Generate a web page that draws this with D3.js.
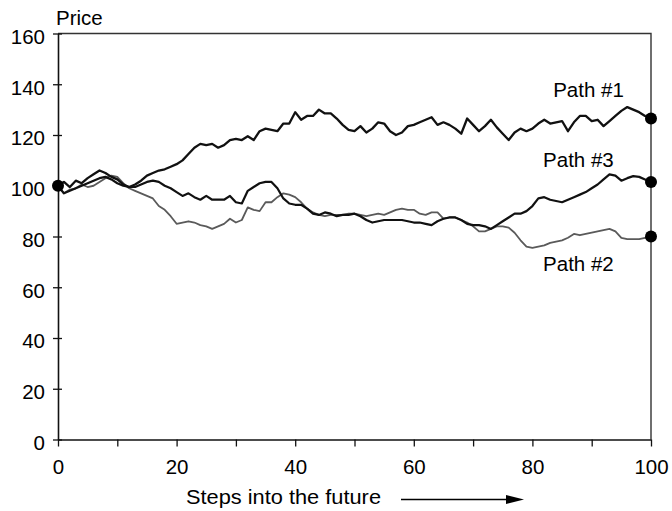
<!DOCTYPE html>
<html>
<head>
<meta charset="utf-8">
<script src="https://cdn.jsdelivr.net/npm/d3@7"></script>
<style>
  html, body { margin: 0; padding: 0; background: #fff; }
  svg { display: block; font-family: "Liberation Sans", Arial, Helvetica, sans-serif; }
</style>
</head>
<body>
<svg id="chart" width="672" height="511"></svg>
<script>
// ---- data ----
const steps = d3.range(0, 101);
const path1 = [100,101.5,99.5,102,101,103,104.5,106,105,103.5,102.5,100.5,99.5,100.5,102,104,105,106,106.5,107.5,
  108.5,110,112.5,115,116.5,116,116.5,115,116,118,118.5,118,119.5,118,121.5,122.5,122,121.5,124.5,124.5,
  129,126,127.5,127.5,130,128.5,128.5,126.5,124,122,121.5,123.5,121,122.5,125,124.5,121.5,120,121,123.5,
  124,125,126,127,124,125,124,122.5,120.5,126.5,124,121.5,123.5,126,123,120.5,118,121,122.5,121.5,
  122.5,124.5,126,124.5,125,125.5,121.5,125,127.5,127.5,125.5,126,123.5,125.5,127.5,129.5,131,130,129,127.5,126.5];
const path2 = [100,97,98.5,99,100.5,99.5,100,101.5,103,104,103.5,101,99,98,97,96,95,92,90.5,88,
  85,85.5,86,85.5,84.5,84,83,84,85,87,85.5,86.5,91.5,90.5,90,93.5,93.5,95.5,97,96.5,
  95.5,93.5,91,89.5,88.5,88,88.5,88.5,88.5,89,89,88.5,88,88.5,89,88.5,89.5,90.5,91,90.5,
  90.5,89,88.5,89.5,89.5,87,87.5,87.5,86.5,85.5,84,82,82,83,84,84,83.5,81.5,78.5,76,
  75.5,76,76.5,77.5,78,78.5,79.5,81,80.5,81,81.5,82,82.5,83,82,79.5,79,79,79,79.5,80];
const path3 = [100,97,98,99,100,101,102,103,103.5,102.5,101,100,99.5,99.5,100.5,101.5,102,101.5,100,99,
  97.5,96,97,95.5,94.5,96,94.5,94.5,94.5,96,93.5,93,98,99.5,101,101.5,101.5,99,95,93,
  92.5,92.5,91,89,88.5,89.5,89,88,88.5,88.5,89,88,86.5,85.5,86,86.5,86.5,86.5,86.5,86,
  85.5,85.5,85,84.5,86,87,87.5,87.5,86.5,85,84.5,84.5,84,83,84.5,86,87.5,89,89,90,
  92,95,95.5,94.5,94,93.5,94.5,95.5,96.5,97.5,99,100.5,102.5,104.5,104,102,103,103.8,103.5,102.5,101.5];
const xTicks = [0, 10, 20, 30, 40, 50, 60, 70, 80, 90, 100];
const xTickLabels = ["0", "", "20", "", "40", "", "60", "", "80", "", "100"];
const yTicks = [0, 20, 40, 60, 80, 100, 120, 140, 160];
const pathNames = ["Path #1", "Path #2", "Path #3"];
// label anchors (step, price) for path annotations
const labelSteps = [83.5, 81.8, 81.8];
const labelValues = [135.1, 66.4, 107.3];
const yTitle = "Price";
const xTitle = "Steps into the future";

// ---- scales ----
const svg = d3.select("#chart");
const x = d3.scaleLinear().domain([0, 100]).range([58, 651]);
const y = d3.scaleLinear().domain([0, 160]).range([439.5, 33.5]);
const FS = 20.5;

// frame (top & right)
svg.append("path")
  .attr("d", `M${x(0)},${y(160)}H${x(100)}V${y(0)}`)
  .attr("fill", "none").attr("stroke", "#333").attr("stroke-width", 1.4);

// x axis
const gx = svg.append("g").attr("transform", `translate(0,${y(0)})`)
  .call(d3.axisBottom(x).tickValues(xTicks).tickSize(7).tickSizeOuter(0)
    .tickFormat((d, i) => xTickLabels[i]));
gx.select(".domain").attr("stroke", "#111").attr("stroke-width", 1.6);
gx.selectAll(".tick line").attr("stroke", "#111").attr("stroke-width", 1.3);
gx.selectAll(".tick text").attr("font-size", FS).attr("fill", "#000")
  .attr("font-family", "Liberation Sans, Arial, sans-serif")
  .attr("y", 34.5).attr("dy", 0);

// y axis
const gy = svg.append("g").attr("transform", `translate(${x(0)},0)`)
  .call(d3.axisLeft(y).tickValues(yTicks).tickSize(5).tickSizeOuter(0));
gy.select(".domain").attr("stroke", "#111").attr("stroke-width", 1.6);
gy.selectAll(".tick line").attr("stroke", "#111").attr("stroke-width", 1.3).attr("x1", 4).attr("x2", -5);
gy.selectAll(".tick text").attr("font-size", FS).attr("fill", "#000")
  .attr("font-family", "Liberation Sans, Arial, sans-serif")
  .attr("x", -13).attr("dy", "0.48em");

// lines
const line = d3.line().x((d, i) => x(steps[i])).y(d => y(d));
const series = [
  { values: path2, color: "#5a5a5a", width: 1.8 },
  { values: path3, color: "#111", width: 2.2 },
  { values: path1, color: "#111", width: 2.3 }
];
svg.selectAll("path.series").data(series).enter().append("path")
  .attr("class", "series")
  .attr("d", d => line(d.values))
  .attr("fill", "none")
  .attr("stroke", d => d.color)
  .attr("stroke-width", d => d.width)
  .attr("stroke-linejoin", "round");

// dots: start and ends
const dots = [
  { s: 0, v: path1[0] },
  { s: 100, v: path1[100] },
  { s: 100, v: path2[100] },
  { s: 100, v: path3[100] }
];
svg.selectAll("circle.dot").data(dots).enter().append("circle")
  .attr("cx", d => x(d.s)).attr("cy", d => y(d.v)).attr("r", 6).attr("fill", "#000");

// path labels
svg.selectAll("text.plabel").data(pathNames).enter().append("text")
  .attr("x", (d, i) => x(labelSteps[i]))
  .attr("y", (d, i) => y(labelValues[i]))
  .attr("font-size", FS).attr("fill", "#000")
  .text(d => d);

// titles
svg.append("text").attr("x", 56).attr("y", 25).attr("font-size", FS).text(yTitle);
svg.append("text").attr("x", 186).attr("y", 504).attr("font-size", FS)
  .attr("textLength", 195).attr("lengthAdjust", "spacingAndGlyphs").text(xTitle);

// arrow
svg.append("line").attr("x1", 401).attr("x2", 510).attr("y1", 499.5).attr("y2", 499.5)
  .attr("stroke", "#000").attr("stroke-width", 1.4);
svg.append("path").attr("d", "M506,495 L524,499.5 L506,504 Z").attr("fill", "#000");
</script>
</body>
</html>
